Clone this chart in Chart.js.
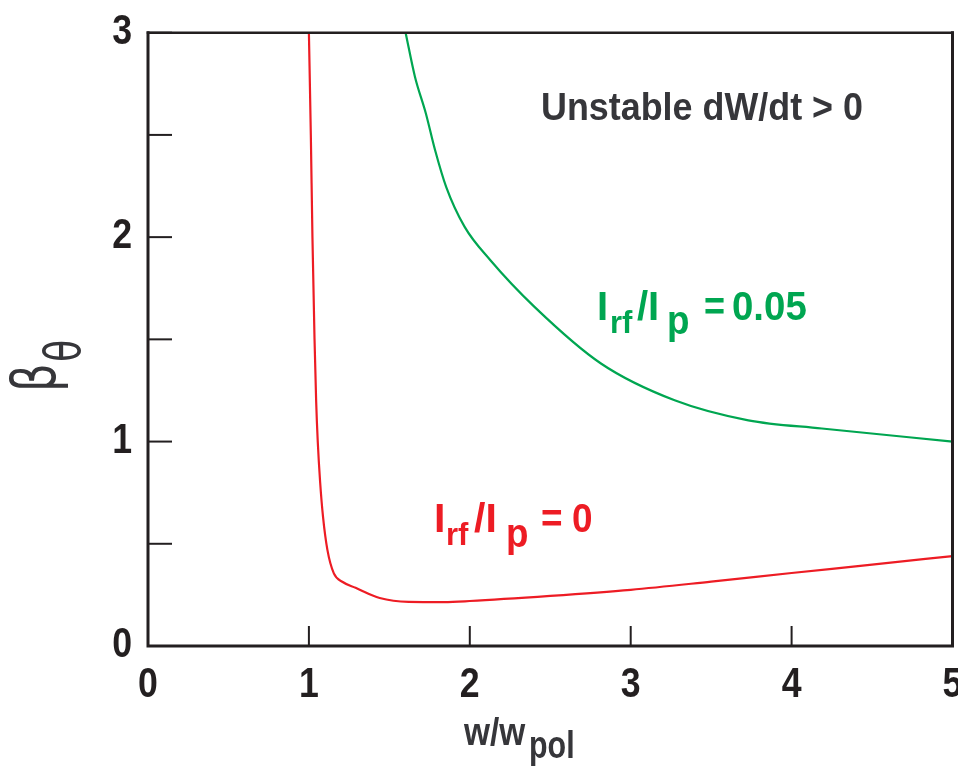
<!DOCTYPE html>
<html>
<head>
<meta charset="utf-8">
<script src="https://cdn.jsdelivr.net/npm/chart.js@4.4.1/dist/chart.umd.min.js"></script>
<style>
html, body { margin: 0; padding: 0; background: #fff; }
</style>
</head>
<body>
<canvas id="chart1" width="958" height="772"></canvas>
<script>
// axis ticks
var xTicks = [0, 1, 2, 3, 4, 5];
var yTicks = [0, 0.5, 1, 1.5, 2, 2.5, 3];
var xTickLabels = ["0", "1", "2", "3", "4", "5"];
var yTickLabels = ["0", "", "1", "", "2", "", "3"];

// Irf/Ip = 0 (red)
var redX = [1.0, 1.012, 1.022, 1.035, 1.045, 1.055, 1.07, 1.088, 1.115, 1.155, 1.21, 1.29, 1.44, 1.62, 1.84, 2.0, 2.5, 3.0, 3.5, 4.0, 4.5, 5.0];
var redY = [3.0, 2.5, 2.0, 1.5, 1.2, 1.0, 0.8, 0.63, 0.47, 0.355, 0.313, 0.285, 0.235, 0.216, 0.215, 0.22, 0.245, 0.275, 0.315, 0.357, 0.398, 0.44];

// Irf/Ip = 0.05 (green)
var greenX = [1.601, 1.659, 1.727, 1.784, 1.853, 1.968, 2.128, 2.402, 2.815, 3.273, 3.731, 4.188, 5.0];
var greenY = [3.0, 2.785, 2.605, 2.426, 2.246, 2.05, 1.887, 1.659, 1.382, 1.202, 1.104, 1.064, 1.0];

var RED = "rgb(237, 28, 36)";
var GREEN = "rgb(0, 166, 81)";
var INK = "#231f20";
var GREY = "#36363a";
var SANS = '"Liberation Sans", Arial, sans-serif';

function pts(xs, ys) {
	return xs.map(function (x, i) { return { x: x, y: ys[i] }; });
}

// text squeezed horizontally by sx, anchored at (x, y)
function txt(c, s, x, y, size, align, sx, color) {
	c.save();
	c.fillStyle = color;
	c.font = "bold " + size + "px " + SANS;
	c.textAlign = align;
	c.textBaseline = "alphabetic";
	c.translate(x, y);
	c.scale(sx, 1);
	c.fillText(s, 0, 0);
	c.restore();
}

// pieces of text at offsets from an anchor (for subscripts)
function rich(c, x, y, color, parts) {
	parts.forEach(function (p) {
		txt(c, p.t, x + p.dx, y + p.dy, p.size, "left", p.sx || 1, color);
	});
}

var framePlugin = {
	id: "frame",
	afterDatasetsDraw: function (chart) {
		var c = chart.ctx, a = chart.chartArea;
		var xs = chart.scales.x, ys = chart.scales.y;
		c.save();
		c.strokeStyle = INK;
		c.lineCap = "square";
		c.lineWidth = 3;
		c.beginPath();
		c.moveTo(a.left, a.top);
		c.lineTo(a.left, a.bottom);
		c.lineTo(a.right, a.bottom);
		c.lineTo(a.right, a.top);
		c.stroke();
		c.lineWidth = 2.5;
		c.beginPath();
		c.moveTo(a.left, a.top);
		c.lineTo(a.right, a.top);
		c.stroke();
		c.lineCap = "butt";
		c.lineWidth = 2;
		yTicks.forEach(function (v, i) {
			var py = ys.getPixelForValue(v);
			c.beginPath(); c.moveTo(a.left, py); c.lineTo(a.left + 24, py); c.stroke();
			if (yTickLabels[i]) txt(c, yTickLabels[i], a.left - 16, py + 11, 42, "right", 0.85, INK);
		});
		xTicks.forEach(function (v, i) {
			var px = xs.getPixelForValue(v);
			c.beginPath(); c.moveTo(px, a.bottom); c.lineTo(px, a.bottom - 20); c.stroke();
			txt(c, xTickLabels[i], px, a.bottom + 51, 42, "center", 0.85, INK);
		});
		c.restore();
	},
	afterDraw: function (chart) {
		var c = chart.ctx;
		// annotations
		txt(c, "Unstable dW/dt > 0", 541, 120, 39, "left", 0.92, GREY);

		rich(c, 597, 320, GREEN, [
			{ t: "I", size: 40, dx: 0, dy: 0 },
			{ t: "rf", size: 31, dx: 13, dy: 13 },
			{ t: "/I", size: 40, dx: 40, dy: 0 },
			{ t: "p", size: 40, dx: 70, dy: 14, sx: 0.92 },
			{ t: "=", size: 40, dx: 107, dy: 0, sx: 0.9 },
			{ t: "0.05", size: 40, dx: 135, dy: 0, sx: 0.96 }
		]);
		rich(c, 434, 532, RED, [
			{ t: "I", size: 41, dx: 0, dy: 0 },
			{ t: "rf", size: 31, dx: 12, dy: 13 },
			{ t: "/I", size: 41, dx: 40, dy: 0 },
			{ t: "p", size: 40, dx: 72, dy: 15, sx: 0.92 },
			{ t: "=", size: 41, dx: 107, dy: 0, sx: 0.9 },
			{ t: "0", size: 41, dx: 138, dy: 0, sx: 0.9 }
		]);

		// x axis title
		rich(c, 464, 745, GREY, [
			{ t: "w/w", size: 38, dx: 0, dy: 0, sx: 0.88 },
			{ t: "pol", size: 38, dx: 65, dy: 13, sx: 0.8 }
		]);

		// y axis title, rotated
		c.save();
		c.translate(55, 392);
		c.rotate(-Math.PI / 2);
		c.fillStyle = GREY;
		c.textBaseline = "alphabetic";
		c.save();
		c.scale(0.75, 1);
		c.font = "60px 'DejaVu Sans'";
		c.fillText("\u03b2", 0, 0);
		c.restore();
		c.save();
		c.translate(30, 25);
		c.scale(0.73, 1);
		c.font = "50px 'DejaVu Sans'";
		c.fillText("\u03b8", 0, 0);
		c.restore();
		c.restore();
	}
};

var ctx = document.getElementById("chart1").getContext("2d");
new Chart(ctx, {
	type: "line",
	data: {
		datasets: [
			{
				label: "Irf/Ip = 0",
				data: pts(redX, redY),
				borderColor: RED,
				borderWidth: 2.2,
				pointRadius: 0,
				fill: false,
				cubicInterpolationMode: "monotone"
			},
			{
				label: "Irf/Ip = 0.05",
				data: pts(greenX, greenY),
				borderColor: GREEN,
				borderWidth: 2.2,
				pointRadius: 0,
				fill: false,
				cubicInterpolationMode: "monotone"
			}
		]
	},
	options: {
		responsive: false,
		animation: false,
		layout: { padding: { top: 32.7, right: 5.5, left: 0, bottom: 0 } },
		plugins: { legend: { display: false }, tooltip: { enabled: false } },
		scales: {
			x: {
				type: "linear",
				min: 0,
				max: 5,
				afterFit: function (s) { s.height = 126; },
				grid: { display: false },
				border: { display: false },
				ticks: { display: false, stepSize: 1 }
			},
			y: {
				min: 0,
				max: 3,
				afterFit: function (s) { s.width = 148; },
				grid: { display: false },
				border: { display: false },
				ticks: { display: false, stepSize: 0.5 }
			}
		}
	},
	plugins: [framePlugin]
});
</script>
</body>
</html>
